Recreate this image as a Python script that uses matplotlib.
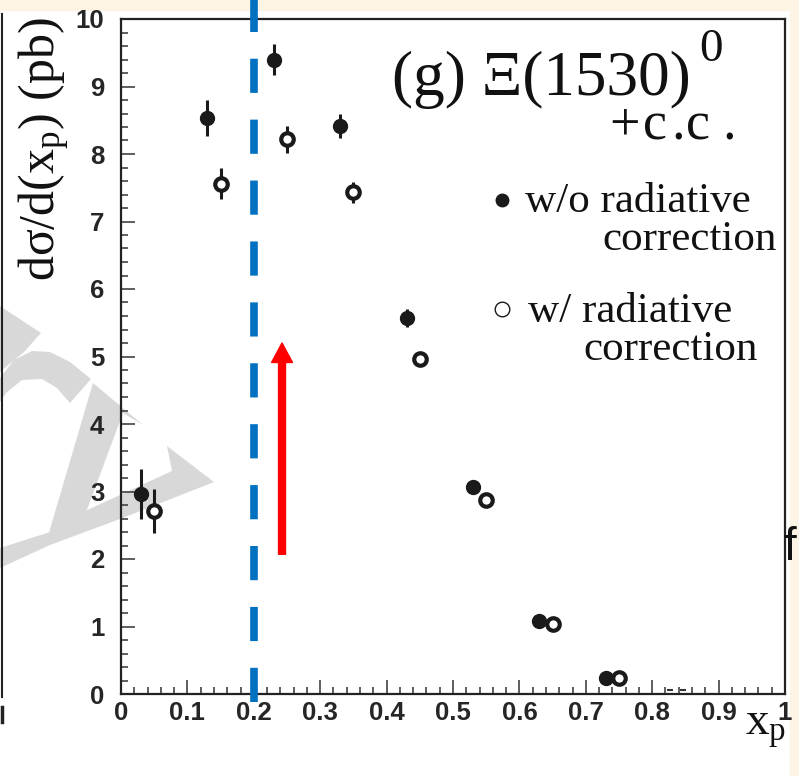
import matplotlib
matplotlib.use("Agg")
import matplotlib.pyplot as plt
from matplotlib.lines import Line2D
from matplotlib.patches import Rectangle, FancyArrowPatch, Polygon
import numpy as np

plt.rcParams['mathtext.fontset'] = 'custom'
plt.rcParams['mathtext.rm'] = 'Liberation Serif'
plt.rcParams['mathtext.it'] = 'Liberation Serif:italic'

# data
x_filled = [0.03, 0.13, 0.23, 0.33, 0.43, 0.53, 0.63, 0.73]
y_filled = [2.96, 8.53, 9.40, 8.41, 5.57, 3.07, 1.08, 0.24]
e_filled = [0.37, 0.27, 0.23, 0.18, 0.13, 0.05, 0.04, 0.03]

x_open = [0.05, 0.15, 0.25, 0.35, 0.45, 0.55, 0.65, 0.75]
y_open = [2.71, 7.56, 8.22, 7.43, 4.97, 2.87, 1.04, 0.24]
e_open = [0.33, 0.23, 0.20, 0.15, 0.09, 0.05, 0.04, 0.03]

x_tiny = [0.827, 0.847]
y_tiny = [0.06, 0.06]

cut_x = 0.2
arrow_x = 0.2425
arrow_from = 2.07
arrow_to = 5.2

xticks = [0, 0.1, 0.2, 0.3, 0.4, 0.5, 0.6, 0.7, 0.8, 0.9, 1.0]
xtick_labels = ['0', '0.1', '0.2', '0.3', '0.4', '0.5', '0.6', '0.7', '0.8', '0.9', '1']
yticks = [0, 1, 2, 3, 4, 5, 6, 7, 8, 9, 10]
ytick_labels = ['0', '1', '2', '3', '4', '5', '6', '7', '8', '9', '10']

W, H = 799, 776
def fx(px):
    return px / W
def fy(py):
    return 1 - py / H
def pts(lst):
    return [(fx(a), fy(b)) for a, b in lst]

cream = '#fef4e4'
ink = '#1a1a1a'
wm = '#d8d8d8'

fig = plt.figure(figsize=(W / 100, H / 100), dpi=100)
fig.patch.set_facecolor('white')
fig.patches.append(Rectangle((0, fy(10)), 1, 10 / H, transform=fig.transFigure,
                             color=cream, zorder=-5))
fig.patches.append(Rectangle((fx(790), 0), 9 / W, fy(10), transform=fig.transFigure,
                             color=cream, zorder=-5))

# grey "CL" logo in the background, rough outline
logo = [
    [(0, 306), (41, 333), (24, 352), (0, 372)],
    [(0, 378), (14, 360), (32, 351), (50, 352), (70, 362), (91, 379), (70, 403),
     (57, 388), (42, 379), (22, 380), (6, 393), (0, 402)],
    [(93, 383), (143, 425), (123, 413), (85, 515), (48, 536)],
    [(0, 548), (50, 532), (83, 512), (172, 471), (167, 446), (214, 482), (120, 519),
     (50, 545), (0, 568)],
]
for shape in logo:
    fig.patches.append(Polygon(pts(shape), closed=True, transform=fig.transFigure,
                               facecolor=wm, edgecolor='none', zorder=-1))

# pieces of the neighbouring panel
fig.add_artist(Line2D([fx(1.5), fx(1.5)], [fy(14), fy(697)], lw=1.5, color='#222222'))
fig.add_artist(Line2D([fx(1.5), fx(1.5)], [fy(707), fy(722)], lw=2.5, color='#222222'))
fig.text(fx(783), fy(560), 'f', fontsize=33, family='Liberation Sans', color='#111111',
         ha='left', va='baseline')

ax = fig.add_axes([fx(121), fy(694), 664 / W, 675 / H])
ax.patch.set_visible(False)
ax.set_xlim(0, 1)
ax.set_ylim(0, 10)

for s in ['left', 'bottom', 'top', 'right']:
    ax.spines[s].set_linewidth(1.6)
    ax.spines[s].set_color('#222222')

ax.set_xticks(xticks)
ax.set_xticklabels(xtick_labels)
ax.set_yticks(yticks)
ax.set_yticklabels(ytick_labels)
ax.set_xticks(np.arange(0, 1.001, 0.02), minor=True)
ax.set_yticks(np.arange(0, 10.001, 0.2), minor=True)
ax.tick_params(which='both', direction='in', top=False, right=False, color='#333333',
               width=1.1, labelsize=18.5, labelcolor='#262626',
               labelfontfamily='Liberation Sans')
ax.tick_params(which='major', length=10)
ax.tick_params(which='minor', length=5)
ax.tick_params(axis='x', pad=5)
ax.tick_params(axis='y', pad=12)
for lab in ax.get_xticklabels() + ax.get_yticklabels():
    lab.set_fontweight('bold')

ax.errorbar(x_filled, y_filled, yerr=e_filled, fmt='o', color=ink, ms=10,
            elinewidth=2.2, capsize=0, zorder=4)
ax.errorbar(x_open, y_open, yerr=e_open, fmt='o', color=ink, mfc='white', mec=ink,
            ms=9, mew=3, elinewidth=2.2, capsize=0, zorder=4)
ax.plot(x_tiny, y_tiny, ls='none', marker='_', ms=4, mew=1.5, color='#333333')

ax.plot([cut_x, cut_x], [-0.12, 10.4], color='#0070c0', lw=5.5,
        ls=(0, (34 / 7.6, 26.6 / 7.6)), clip_on=False, zorder=5)

arr = FancyArrowPatch((arrow_x, arrow_from), (arrow_x, arrow_to),
                      arrowstyle='simple,head_length=14,head_width=15,tail_width=5',
                      mutation_scale=1, color='#ff0000', shrinkA=0, shrinkB=0, zorder=5)
ax.add_patch(arr)

# titles and labels
serif = 'Liberation Serif'
fig.text(fx(392), fy(95), '(g) \u039e(1530)', fontsize=45.5, family=serif, color='#111111',
         ha='left', va='baseline')
fig.text(fx(699), fy(61), '0', fontsize=34, family=serif, color='#111111',
         ha='left', va='baseline')
# "+c.c." is letter-spaced in the original
for ch, px in zip(['+', 'c', '.', 'c', '.'], [609, 643, 671, 686, 722]):
    fig.text(fx(px), fy(140), ch, fontsize=39, family=serif, color='#111111',
             ha='left', va='baseline')

fig.add_artist(Line2D([fx(502)], [fy(200)], marker='o', ms=9, color=ink, ls='none'))
fig.add_artist(Line2D([fx(502)], [fy(309)], marker='o', ms=10.5, mfc='white', mec=ink,
                      mew=1.0, ls='none'))
fig.text(fx(525), fy(212), 'w/o radiative', fontsize=31, family=serif, color='#111111',
         ha='left', va='baseline')
fig.text(fx(777), fy(250), 'correction', fontsize=31, family=serif, color='#111111',
         ha='right', va='baseline')
fig.text(fx(528), fy(322), 'w/ radiative', fontsize=31, family=serif, color='#111111',
         ha='left', va='baseline')
fig.text(fx(758), fy(360), 'correction', fontsize=31, family=serif, color='#111111',
         ha='right', va='baseline')

fig.text(fx(17), fy(149), 'd\u03c3/d(x$_{\\rm p}$) (pb)', fontsize=36, family=serif,
         color='#111111', rotation=90, ha='left', va='center')
fig.text(fx(745), fy(735), 'x$_{\\rm p}$', fontsize=34, family=serif, color='#111111',
         ha='left', va='baseline')

fig.savefig('out.png', dpi=100)
